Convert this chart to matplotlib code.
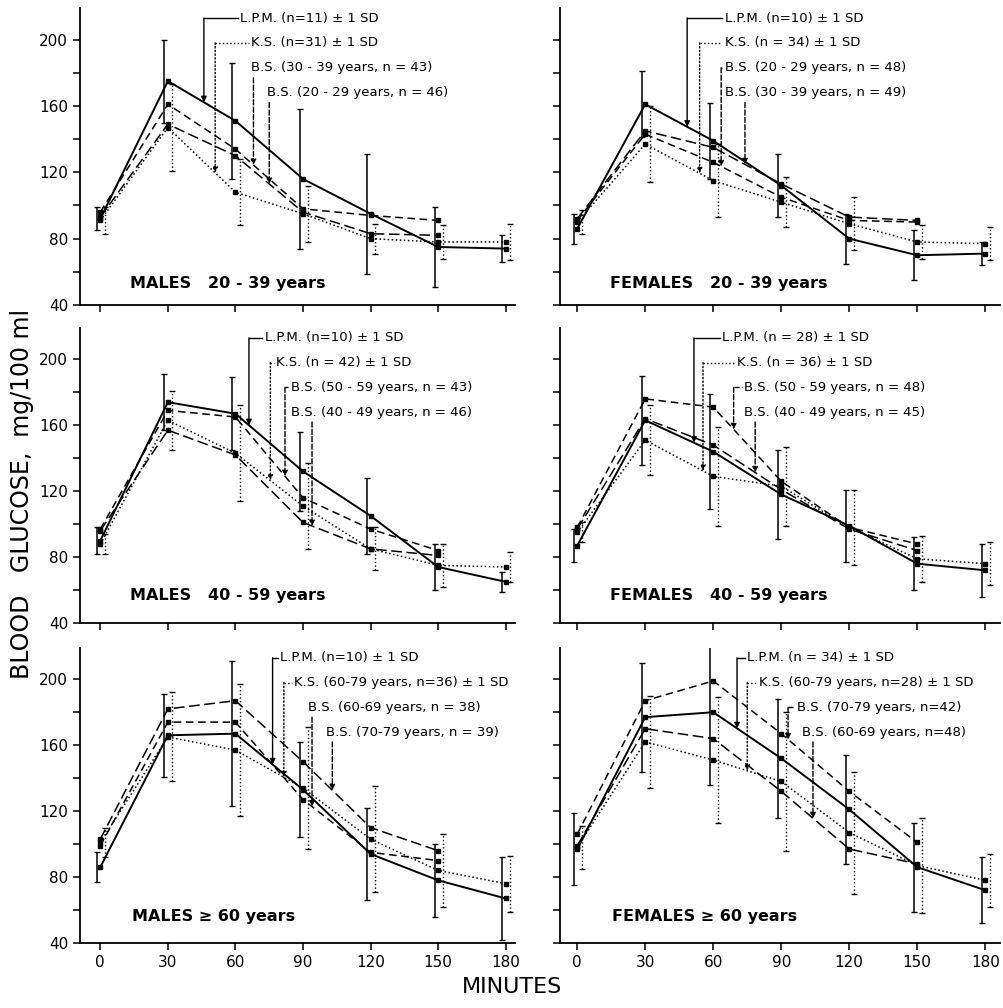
import numpy as np
import matplotlib
matplotlib.use('Agg')
import matplotlib.pyplot as plt

minutes = [0, 30, 60, 90, 120, 150, 180]
bs_minutes = [0, 30, 60, 90, 120, 150]

# males 20-39
m1_lpm = [92, 175, 151, 116, 95, 75, 74]
m1_lpm_sd = [7, 25, 35, 42, 36, 24, 8]
m1_ks = [91, 147, 108, 95, 80, 78, 78]
m1_ks_sd = [8, 26, 20, 17, 9, 10, 11]
m1_bs_3039 = [96, 161, 134, 98, 94, 91]
m1_bs_2029 = [93, 149, 130, 96, 83, 82]

# females 20-39
f1_lpm = [86, 161, 139, 112, 80, 70, 71]
f1_lpm_sd = [9, 20, 23, 19, 15, 15, 7]
f1_ks = [90, 137, 115, 102, 89, 78, 77]
f1_ks_sd = [7, 23, 22, 15, 16, 10, 10]
f1_bs_2029 = [91, 143, 126, 105, 91, 90]
f1_bs_3039 = [92, 145, 135, 113, 93, 91]

# males 40-59
m2_lpm = [90, 174, 167, 132, 105, 74, 65]
m2_lpm_sd = [8, 17, 22, 24, 23, 14, 6]
m2_ks = [88, 163, 143, 111, 85, 75, 74]
m2_ks_sd = [6, 18, 29, 26, 13, 13, 9]
m2_bs_5059 = [97, 169, 165, 116, 97, 84]
m2_bs_4049 = [96, 157, 142, 101, 85, 81]

# females 40-59
f2_lpm = [87, 163, 144, 118, 99, 76, 72]
f2_lpm_sd = [10, 27, 35, 27, 22, 16, 16]
f2_ks = [95, 151, 129, 123, 98, 79, 76]
f2_ks_sd = [6, 21, 30, 24, 23, 14, 13]
f2_bs_5059 = [98, 176, 171, 126, 98, 88]
f2_bs_4049 = [97, 164, 148, 121, 97, 84]

# males >= 60
m3_lpm = [86, 166, 167, 133, 94, 78, 67]
m3_lpm_sd = [9, 25, 44, 29, 28, 22, 25]
m3_ks = [101, 165, 157, 134, 103, 84, 76]
m3_ks_sd = [9, 27, 40, 37, 32, 22, 17]
m3_bs_6069 = [99, 174, 174, 127, 95, 90]
m3_bs_7079 = [103, 182, 187, 150, 110, 96]

# females >= 60
f3_lpm = [97, 177, 180, 152, 121, 86, 72]
f3_lpm_sd = [22, 33, 44, 36, 33, 27, 20]
f3_ks = [98, 162, 151, 138, 107, 87, 78]
f3_ks_sd = [13, 28, 38, 42, 37, 29, 16]
f3_bs_7079 = [106, 187, 199, 167, 132, 101]
f3_bs_6069 = [99, 170, 164, 132, 97, 88]

panels = [
    dict(title='MALES   20 - 39 years', lpm=m1_lpm, lpm_sd=m1_lpm_sd, ks=m1_ks, ks_sd=m1_ks_sd,
         bs=[m1_bs_3039, m1_bs_2029],
         labels=['L.P.M. (n=11) ± 1 SD', 'K.S. (n=31) ± 1 SD',
                 'B.S. (30 - 39 years, n = 43)', 'B.S. (20 - 29 years, n = 46)']),
    dict(title='FEMALES   20 - 39 years', lpm=f1_lpm, lpm_sd=f1_lpm_sd, ks=f1_ks, ks_sd=f1_ks_sd,
         bs=[f1_bs_2029, f1_bs_3039],
         labels=['L.P.M. (n=10) ± 1 SD', 'K.S. (n = 34) ± 1 SD',
                 'B.S. (20 - 29 years, n = 48)', 'B.S. (30 - 39 years, n = 49)']),
    dict(title='MALES   40 - 59 years', lpm=m2_lpm, lpm_sd=m2_lpm_sd, ks=m2_ks, ks_sd=m2_ks_sd,
         bs=[m2_bs_5059, m2_bs_4049],
         labels=['L.P.M. (n=10) ± 1 SD', 'K.S. (n = 42) ± 1 SD',
                 'B.S. (50 - 59 years, n = 43)', 'B.S. (40 - 49 years, n = 46)']),
    dict(title='FEMALES   40 - 59 years', lpm=f2_lpm, lpm_sd=f2_lpm_sd, ks=f2_ks, ks_sd=f2_ks_sd,
         bs=[f2_bs_5059, f2_bs_4049],
         labels=['L.P.M. (n = 28) ± 1 SD', 'K.S. (n = 36) ± 1 SD',
                 'B.S. (50 - 59 years, n = 48)', 'B.S. (40 - 49 years, n = 45)']),
    dict(title='MALES ≥ 60 years', lpm=m3_lpm, lpm_sd=m3_lpm_sd, ks=m3_ks, ks_sd=m3_ks_sd,
         bs=[m3_bs_6069, m3_bs_7079],
         labels=['L.P.M. (n=10) ± 1 SD', 'K.S. (60-79 years, n=36) ± 1 SD',
                 'B.S. (60-69 years, n = 38)', 'B.S. (70-79 years, n = 39)']),
    dict(title='FEMALES ≥ 60 years', lpm=f3_lpm, lpm_sd=f3_lpm_sd, ks=f3_ks, ks_sd=f3_ks_sd,
         bs=[f3_bs_7079, f3_bs_6069],
         labels=['L.P.M. (n = 34) ± 1 SD', 'K.S. (60-79 years, n=28) ± 1 SD',
                 'B.S. (70-79 years, n=42)', 'B.S. (60-69 years, n=48)']),
]

# layout: label x positions / leader x positions (minutes), title position
layout = [
    dict(text_t=[62, 67, 67, 74], lead_t=[46, 51, 68, 75], title_xy=(13, 53)),
    dict(text_t=[65, 65, 65, 65], lead_t=[48.5, 54, 63.5, 74], title_xy=(14.5, 53)),
    dict(text_t=[73, 78, 84.5, 84.5], lead_t=[66, 75.5, 82, 94], title_xy=(13, 57)),
    dict(text_t=[64, 70.5, 73.5, 73.5], lead_t=[51.5, 55.5, 69, 78.5], title_xy=(14.5, 57)),
    dict(text_t=[80, 86, 92, 100], lead_t=[76.5, 81.5, 94, 103], title_xy=(14, 56)),
    dict(text_t=[75, 80, 97, 99], lead_t=[70.5, 75, 93, 104], title_xy=(15.5, 56)),
]
row_y = [213, 198, 183, 168]

fig = plt.figure(figsize=(10.04, 10.08), dpi=100)

col_x = [(0.0797, 0.433, (-9, 184)), (0.558, 0.438, (-7.5, 186.5))]
row_b = [(0.6974, 0.2946), (0.3819, 0.2927), (0.0645, 0.2927)]

bs_styles = [(0, (5, 3)), (0, (7, 3))]

for i, p in enumerate(panels):
    r, c = i // 2, i % 2
    left, width, xlim = col_x[c]
    bottom, height = row_b[r]
    ax = fig.add_axes([left, bottom, width, height])
    lay = layout[i]

    x = np.array(minutes)
    # error bars, LPM solid a bit left, KS dotted a bit right
    ax.errorbar(x - 1.5, p['lpm'], yerr=p['lpm_sd'], fmt='none', ecolor='k',
                elinewidth=1.1, capsize=2, capthick=1)
    eb = ax.errorbar(x + 2, p['ks'], yerr=p['ks_sd'], fmt='none', ecolor='k',
                     elinewidth=1.0, capsize=2, capthick=1)
    eb[2][0].set_linestyle(':')

    ax.plot(minutes, p['lpm'], color='k', lw=1.4, marker='s', ms=2.5)
    ax.plot(minutes, p['ks'], color='k', lw=1.1, ls=':', marker='s', ms=2.5)
    for bs, st in zip(p['bs'], bs_styles):
        ax.plot(bs_minutes, bs, color='k', lw=1.1, ls=st, marker='s', ms=2.5)

    # labels with leader arrows
    series = [(minutes, p['lpm'], '-'), (minutes, p['ks'], ':'),
              (bs_minutes, p['bs'][0], '--'), (bs_minutes, p['bs'][1], '--')]
    for k, (xs, ys, ls) in enumerate(series):
        tt = lay['text_t'][k]
        lt = lay['lead_t'][k]
        ty = row_y[k]
        ax.text(tt, ty, p['labels'][k], fontsize=9.5, ha='left', va='center')
        tip = np.interp(lt, xs, ys)
        if lt < tt - 0.5:
            ax.plot([lt, tt - 1], [ty, ty], color='k', lw=1, ls=ls)
            start = ty
        else:
            start = ty - 6
        ax.annotate('', xy=(lt, tip), xytext=(lt, start),
                    arrowprops=dict(arrowstyle='-|>', color='k', lw=1, ls=ls,
                                    mutation_scale=8, shrinkA=0, shrinkB=0))

    ax.text(lay['title_xy'][0], lay['title_xy'][1], p['title'], fontsize=11.5,
            fontweight='bold', ha='left', va='center')

    ax.set_xlim(xlim)
    ax.set_ylim(40, 219)
    ax.set_xticks(minutes)
    ax.set_yticks(np.arange(40, 201, 20))
    ax.spines['top'].set_visible(False)
    ax.spines['right'].set_visible(False)
    ax.spines['left'].set_linewidth(1.3)
    ax.spines['bottom'].set_linewidth(1.3)
    ax.tick_params(direction='out', length=5, width=1.1, labelsize=11)
    if c == 0:
        ax.set_yticklabels([str(v) if v % 40 == 0 else '' for v in range(40, 201, 20)])
    else:
        ax.set_yticklabels([])
    if r == 2:
        ax.set_xticklabels([str(m) for m in minutes])
    else:
        ax.set_xticklabels([])

fig.text(0.022, 0.51, 'BLOOD   GLUCOSE,  mg/100 ml', rotation=90, fontsize=17,
         ha='center', va='center')
fig.text(0.51, 0.021, 'MINUTES', fontsize=16, ha='center', va='center')

plt.savefig('out.png', dpi=100)
